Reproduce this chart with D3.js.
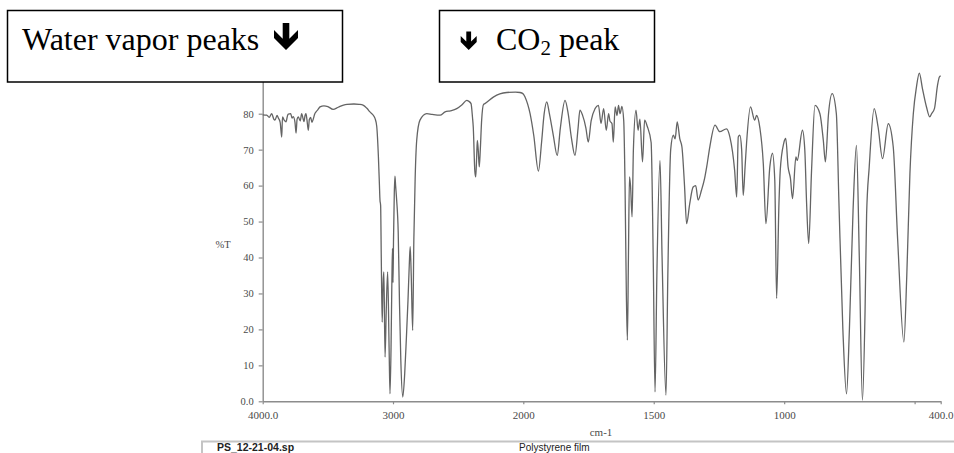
<!DOCTYPE html>
<html>
<head>
<meta charset="utf-8">
<script src="https://cdn.jsdelivr.net/npm/d3@7"></script>
<style>
  body { margin: 0; background: #fff; }
  svg { display: block; }
</style>
</head>
<body>
<svg id="chart" width="954" height="453"></svg>
<script>
// Polystyrene film IR spectrum: wavenumber (cm-1) and transmittance (%T)
const wavenumbers = [
  4000, 3969, 3950, 3931, 3915, 3906, 3890, 3880, 3866, 3854, 3848, 3835, 3821, 3810, 3804,
  3785, 3775, 3765, 3752, 3744, 3736, 3727, 3712, 3701, 3690, 3683, 3675, 3668, 3660, 3650,
  3642, 3632, 3622, 3612, 3600, 3591, 3575, 3560, 3530, 3500, 3460, 3420, 3380, 3353, 3300,
  3260, 3230, 3200, 3177, 3150, 3138, 3125, 3112, 3104, 3100, 3095, 3090, 3083, 3076, 3070,
  3061, 3052, 3041, 3030, 3023, 3015, 3008, 3004, 3000, 2996, 2990, 2985, 2980, 2972, 2960,
  2950, 2940, 2925, 2910, 2897, 2885, 2875, 2868, 2860, 2849, 2840, 2830, 2818, 2793, 2741,
  2700, 2639, 2600, 2560, 2511, 2470, 2434, 2420, 2401, 2390, 2384, 2372, 2365, 2358, 2353,
  2346, 2338, 2330, 2320, 2305, 2295, 2230, 2180, 2127, 2060, 2025, 2000, 1993, 1974, 1960,
  1942, 1930, 1920, 1910, 1900, 1885, 1870, 1858, 1840, 1828, 1815, 1802, 1790, 1783, 1773,
  1760, 1751, 1740, 1725, 1712, 1702, 1692, 1682, 1673, 1668, 1660, 1655, 1648, 1641, 1635,
  1629, 1622, 1615, 1610, 1605, 1601, 1597, 1593, 1589, 1583, 1578, 1568, 1560, 1553, 1543,
  1535, 1525, 1510, 1502, 1495, 1488, 1476, 1468, 1453, 1446, 1435, 1425, 1418, 1410, 1400,
  1392, 1382, 1374, 1362, 1349, 1339, 1330, 1317, 1305, 1297, 1285, 1265, 1247, 1221, 1208,
  1190, 1182, 1176, 1170, 1163, 1157, 1150, 1144, 1129, 1113, 1106, 1093, 1080, 1070, 1055,
  1045, 1036, 1029, 1020, 1015, 1002, 994, 985, 976, 968, 955, 950, 930, 921, 914,
  906, 895, 882, 863, 850, 842, 830, 816, 800, 790, 775, 761, 750, 736, 723,
  712, 700, 690, 684, 674, 655, 640, 623, 601, 582, 565, 541, 530, 518, 505,
  493, 482, 470, 455, 442, 435, 424, 412, 405, 400
];
const transmittance = [
  79.7, 79.6, 79.0, 80.0, 78.5, 78.2, 79.5, 78.8, 77.6, 73.5, 79.1, 78.2, 77.7, 79.4, 79.9,
  80.0, 78.8, 79.2, 77.5, 74.6, 78.5, 79.1, 78.0, 80.0, 78.6, 77.8, 79.5, 80.0, 78.2, 75.4,
  78.4, 79.0, 77.6, 78.5, 80.0, 80.5, 81.2, 81.9, 82.2, 82.0, 81.2, 81.8, 82.4, 82.6, 82.7,
  82.6, 82.4, 81.5, 80.5, 79.5, 78.7, 76.5, 68.0, 60.0, 56.0, 54.5, 40.0, 22.0, 33.0, 36.0,
  12.3, 25.0, 36.0, 15.0, 2.1, 15.0, 35.0, 42.5, 33.0, 45.0, 58.0, 62.6, 60.0, 56.0, 47.0,
  27.0, 11.4, 1.2, 7.8, 17.9, 28.0, 38.0, 43.0, 35.0, 19.7, 45.0, 62.0, 72.6, 78.2, 80.0,
  79.8, 79.6, 80.5, 80.8, 81.4, 82.5, 83.7, 83.5, 82.8, 79.0, 76.3, 64.0, 62.4, 68.0, 72.6,
  70.0, 65.2, 70.0, 78.0, 82.6, 82.8, 84.6, 85.5, 85.9, 86.0, 85.9, 85.5, 84.6, 80.0, 74.0,
  64.0, 72.0, 80.0, 83.3, 80.0, 74.0, 68.4, 76.0, 83.7, 80.0, 73.0, 68.4, 76.0, 81.0, 79.6,
  76.0, 72.1, 78.0, 81.4, 82.3, 77.3, 81.4, 75.4, 80.0, 78.0, 77.2, 72.1, 81.9, 79.5, 82.3,
  80.0, 82.0, 78.0, 60.0, 30.0, 17.0, 40.0, 62.4, 60.0, 51.3, 70.0, 81.0, 75.4, 78.5, 66.6,
  78.2, 76.5, 72.0, 40.0, 2.6, 35.0, 67.0, 40.0, 1.7, 35.0, 70.0, 74.0, 73.0, 77.7, 73.0,
  70.8, 60.0, 49.4, 55.0, 59.6, 60.0, 56.0, 58.7, 62.0, 65.2, 70.8, 76.8, 75.0, 75.8, 73.5,
  64.3, 56.8, 73.5, 74.0, 70.0, 57.3, 65.0, 72.0, 81.9, 78.2, 79.5, 76.0, 66.1, 49.4, 65.2,
  69.0, 61.5, 28.6, 55.0, 64.3, 71.7, 73.1, 65.2, 62.0, 56.4, 68.0, 67.0, 75.4, 70.0, 55.0,
  43.9, 64.3, 82.3, 80.0, 72.6, 66.6, 80.0, 85.6, 80.0, 55.0, 20.0, 2.1, 20.0, 53.0, 71.2,
  40.0, 0.3, 25.0, 52.0, 65.2, 81.4, 76.3, 67.5, 77.2, 70.8, 45.0, 16.5, 35.0, 63.3, 80.0,
  87.4, 91.3, 87.0, 82.0, 79.1, 80.0, 81.4, 88.0, 90.2, 90.5
];

// Axis ticks (the instrument plots 4000-2000 at half the scale of 2000-400)
const xTickValues = [4000, 3000, 2000, 1500, 1000, 500, 400];
const xTickLabels = ["4000.0", "3000", "2000", "1500", "1000", "", "400.0"];
const yTickValues = [0, 10, 20, 30, 40, 50, 60, 70, 80];
const yTickLabels = ["0.0", "10", "20", "30", "40", "50", "60", "70", "80"];

const svg = d3.select("#chart");

const x = d3.scaleLinear()
  .domain([4000, 2000, 400])
  .range([262.7, 523.3, 940.7]);

const y = d3.scaleLinear()
  .domain([0, 100])
  .range([401.3, 41.8]);

const axisGrey = "#8c8c8c";
const labelGrey = "#4a4a4a";

// Y axis
const yAxis = svg.append("g")
  .attr("transform", `translate(${x(4000)},0)`)
  .call(d3.axisLeft(y)
    .tickValues(yTickValues)
    .tickFormat((d, i) => yTickLabels[i])
    .tickSizeInner(4).tickSizeOuter(0).tickPadding(5));
yAxis.select(".domain").attr("stroke", axisGrey).attr("stroke-width", 1.4);
yAxis.selectAll(".tick line").attr("stroke", axisGrey).attr("stroke-width", 1.2);
yAxis.selectAll(".tick text")
  .attr("fill", labelGrey)
  .style("font-family", "'Liberation Serif', serif")
  .style("font-size", "10.5px");

// X axis
const xAxis = svg.append("g")
  .attr("transform", `translate(0,${y(0)})`)
  .call(d3.axisBottom(x)
    .tickValues(xTickValues)
    .tickFormat((d, i) => xTickLabels[i])
    .tickSizeInner(3).tickSizeOuter(0).tickPadding(7));
xAxis.select(".domain").attr("stroke", axisGrey).attr("stroke-width", 1.4);
xAxis.selectAll(".tick line").attr("stroke", axisGrey).attr("stroke-width", 1.2);
xAxis.selectAll(".tick text")
  .attr("fill", labelGrey)
  .style("font-family", "'Liberation Serif', serif")
  .style("font-size", "11px");

// Axis titles
svg.append("text")
  .attr("x", 223).attr("y", 248)
  .attr("text-anchor", "middle")
  .attr("fill", labelGrey)
  .style("font-family", "'Liberation Serif', serif")
  .style("font-size", "10.5px")
  .text("%T");

svg.append("text")
  .attr("x", 601).attr("y", 436)
  .attr("text-anchor", "middle")
  .attr("fill", labelGrey)
  .style("font-family", "'Liberation Serif', serif")
  .style("font-size", "11px")
  .text("cm-1");

// Spectrum trace
const points = wavenumbers.map((w, i) => [w, transmittance[i]]);
const line = d3.line()
  .x(d => x(d[0]))
  .y(d => y(d[1]))
  .curve(d3.curveMonotoneX);

svg.append("path")
  .datum(points)
  .attr("fill", "none")
  .attr("stroke", "#646464")
  .attr("stroke-width", 1.3)
  .attr("stroke-linejoin", "round")
  .attr("d", line);

// Footer strip with file name and sample description
svg.append("path")
  .attr("d", "M202,453 V441.5 H954")
  .attr("fill", "none")
  .attr("stroke", "#c4c4c4")
  .attr("stroke-width", 2);

svg.append("text")
  .attr("x", 217).attr("y", 450.5)
  .attr("fill", "#222")
  .style("font-family", "'Liberation Sans', Arial, sans-serif")
  .style("font-size", "10.5px")
  .style("font-weight", "bold")
  .text("PS_12-21-04.sp");

svg.append("text")
  .attr("x", 519).attr("y", 450.5)
  .attr("fill", "#222")
  .style("font-family", "'Liberation Sans', Arial, sans-serif")
  .style("font-size", "10px")
  .text("Polystyrene film");

// Annotation boxes
function downArrow(cx, top, bottom, halfWidth, shaft, arm) {
  const p = [
    [cx - shaft, top], [cx + shaft, top],
    [cx + shaft, bottom - arm - shaft],
    [cx + halfWidth, bottom - arm - halfWidth],
    [cx + halfWidth, bottom - halfWidth],
    [cx, bottom],
    [cx - halfWidth, bottom - halfWidth],
    [cx - halfWidth, bottom - arm - halfWidth],
    [cx - shaft, bottom - arm - shaft]
  ];
  return "M" + p.map(q => q.join(",")).join("L") + "Z";
}

const boxFont = "'Liberation Serif', 'Times New Roman', serif";

svg.append("rect")
  .attr("x", 7.5).attr("y", 10.5).attr("width", 335).attr("height", 71.5)
  .attr("fill", "#fff").attr("stroke", "#000").attr("stroke-width", 1.5);
svg.append("text")
  .attr("x", 22).attr("y", 50)
  .style("font-family", boxFont).style("font-size", "32px")
  .text("Water vapor peaks");
svg.append("path")
  .attr("d", downArrow(286, 23, 50, 12, 3.3, 8))
  .attr("fill", "#000");

svg.append("rect")
  .attr("x", 439.5).attr("y", 10.5).attr("width", 215).attr("height", 71.5)
  .attr("fill", "#fff").attr("stroke", "#000").attr("stroke-width", 1.5);
svg.append("path")
  .attr("d", downArrow(468.7, 31.5, 50, 8, 2.4, 6))
  .attr("fill", "#000");
const co2 = svg.append("text")
  .attr("x", 496).attr("y", 50)
  .style("font-family", boxFont).style("font-size", "32px");
co2.append("tspan").text("CO");
co2.append("tspan").attr("dy", 5).style("font-size", "21px").text("2");
co2.append("tspan").attr("dy", -5).text(" peak");
</script>
</body>
</html>
